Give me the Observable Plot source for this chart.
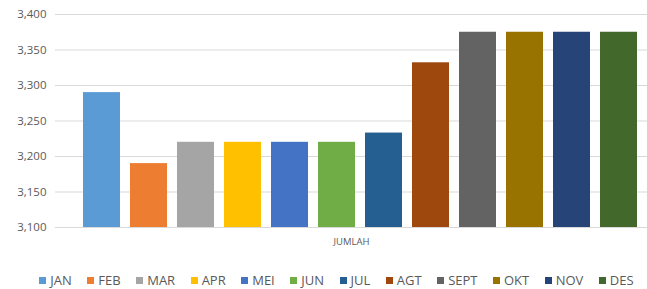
<!DOCTYPE html>
<html>
<head>
<meta charset="utf-8">
<script src="https://cdn.jsdelivr.net/npm/d3@7"></script>
<script src="https://cdn.jsdelivr.net/npm/@observablehq/plot@0.6"></script>
<style>
  html, body { margin: 0; padding: 0; background: #fff; }
  #chart { width: 647px; font-family: "Open Sans", sans-serif; }
  .lg-swatches { display: flex; justify-content: center; margin: 0 !important; padding-left: 26px; font-size: 13px !important; color: #595959; font-family: "Open Sans", sans-serif !important; min-height: 20px !important; flex-wrap: nowrap !important; }
  .lg-swatch { margin-right: 15.5px !important; white-space: nowrap; }
  .lg-swatch:last-child { margin-right: 0 !important; }
  .lg-swatch > svg { margin-right: 4px !important; }
</style>
</head>
<body>
<div id="chart"></div>
<script>
const months = ["JAN","FEB","MAR","APR","MEI","JUN","JUL","AGT","SEPT","OKT","NOV","DES"];
const values = [3290, 3190, 3220, 3220, 3220, 3220, 3233, 3332, 3375, 3375, 3375, 3375];
const colors = ["#5B9BD5","#ED7D31","#A5A5A5","#FFC000","#4472C4","#70AD47","#255E91","#9E480E","#636363","#997300","#264478","#43682B"];
const yTicks = [3100, 3150, 3200, 3250, 3300, 3350, 3400];
const categoryLabel = ["JUMLAH"];

const data = months.map((m, i) => ({month: m, value: values[i]}));

const plot = Plot.plot({
  width: 647,
  height: 250,
  marginTop: 14,
  marginBottom: 23,
  marginLeft: 55,
  marginRight: 0,
  style: {fontFamily: "'Open Sans', sans-serif", fontSize: "11px", color: "#595959", background: "#fff"},
  x: {domain: months, range: [60, 660], paddingInner: 0.22, paddingOuter: 0.4, axis: null},
  y: {domain: [3100, 3400], ticks: yTicks, tickFormat: d3.format(","), label: null, tickSize: 0, tickPadding: 9},
  color: {domain: months, range: colors},
  marks: [
    Plot.gridY(yTicks, {stroke: "#d9d9d9", strokeOpacity: 1}),
    Plot.barY(data, {x: "month", y: "value", fill: "month", clip: true}),
    Plot.axisY({ticks: yTicks, tickFormat: d3.format(","), tickSize: 0, tickPadding: 9, fill: "#595959", fontSize: 11.5, label: null}),
    Plot.text(categoryLabel, {frameAnchor: "bottom", dy: 17, fill: "#595959", fontSize: 9.5, text: d => d})
  ]
});

const legend = Plot.legend({
  color: {domain: months, range: colors},
  legend: "swatches",
  swatchSize: 7,
  className: "lg"
});

const root = document.getElementById("chart");
root.appendChild(plot);
const lw = document.createElement("div");
lw.style.marginTop = "20px";
lw.appendChild(legend);
root.appendChild(lw);
</script>
</body>
</html>
